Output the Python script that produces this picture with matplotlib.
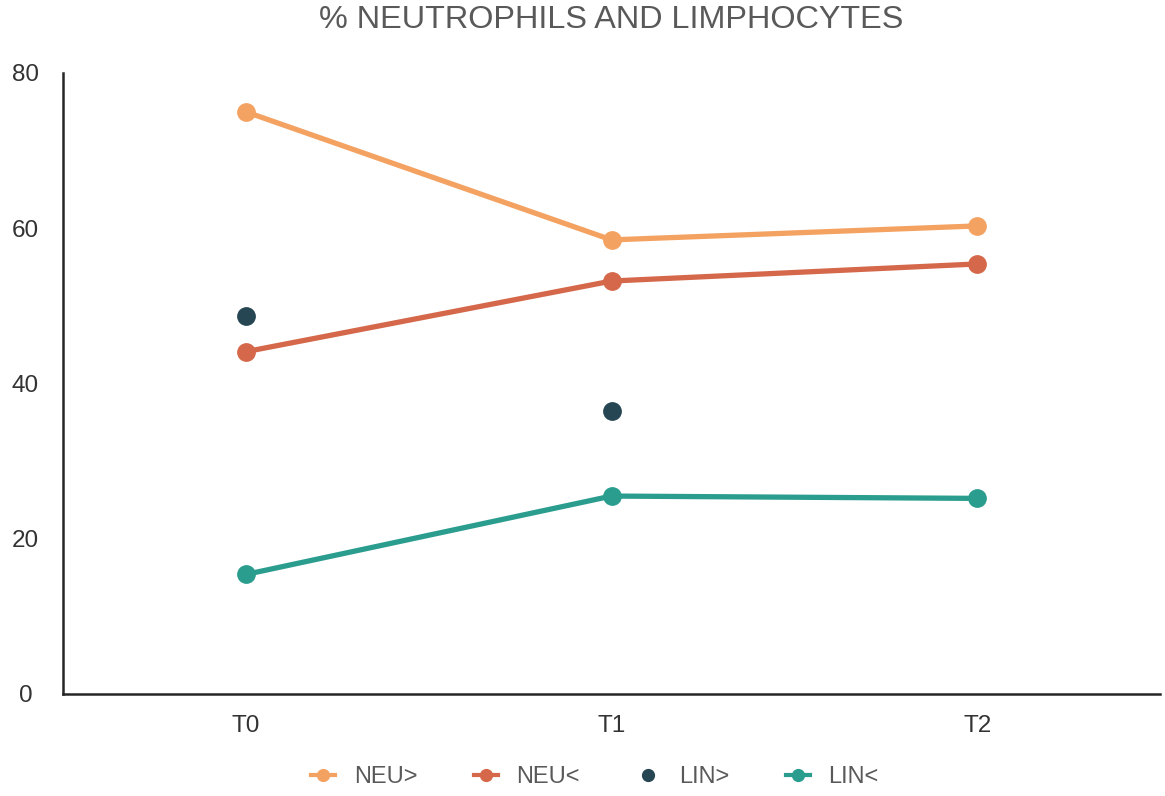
import matplotlib.pyplot as plt
from matplotlib.lines import Line2D
import numpy as np

categories = ["T0", "T1", "T2"]
neu_gt = [75.0, 58.5, 60.3]
neu_lt = [44.1, 53.2, 55.4]
lin_gt = [48.7, 36.4, np.nan]
lin_lt = [15.4, 25.5, 25.2]
y_ticks = [0, 20, 40, 60, 80]

c_neu_gt = "#F4A261"
c_neu_lt = "#D5674A"
c_lin_gt = "#264653"
c_lin_lt = "#2A9D8F"

plt.rcParams["font.family"] = ["Liberation Sans", "DejaVu Sans"]

fig = plt.figure(figsize=(11.65, 7.96), dpi=100)
ax = fig.add_axes([63 / 1165, 1 - 694 / 796, (1160 - 63) / 1165, (694 - 73) / 796])

x = np.arange(len(categories))
ax.plot(x, neu_gt, color=c_neu_gt, lw=3.8, marker="o", ms=12.5, solid_capstyle="round")
ax.plot(x, neu_lt, color=c_neu_lt, lw=3.8, marker="o", ms=12.5, solid_capstyle="round")
ax.plot(x, lin_gt, color=c_lin_gt, lw=0, marker="o", ms=12.5)
ax.plot(x, lin_lt, color=c_lin_lt, lw=3.8, marker="o", ms=12.5, solid_capstyle="round")

ax.set_xlim(-0.5, 2.5)
ax.set_ylim(0, 80)
ax.set_xticks(x)
ax.set_xticklabels(categories)
ax.set_yticks(y_ticks)
ax.tick_params(axis="both", length=0, labelsize=17.5, colors="#333333")
ax.tick_params(axis="y", pad=27)
ax.tick_params(axis="x", pad=15)
for lbl in ax.get_yticklabels():
    lbl.set_horizontalalignment("center")
for s in ["top", "right"]:
    ax.spines[s].set_visible(False)
for s in ["left", "bottom"]:
    ax.spines[s].set_color("#262626")
    ax.spines[s].set_linewidth(1.8)

fig.text(611 / 1165, 1 - 20 / 796, "% NEUTROPHILS AND LIMPHOCYTES", ha="center", va="center",
         fontsize=23.3, color="#595959")

handles = [
    Line2D([], [], color=c_neu_gt, lw=3, marker="o", ms=8.5),
    Line2D([], [], color=c_neu_lt, lw=3, marker="o", ms=8.5),
    Line2D([], [], color=c_lin_gt, lw=0, marker="o", ms=8.5),
    Line2D([], [], color=c_lin_lt, lw=3, marker="o", ms=8.5),
]
fig.legend(handles, ["NEU>", "NEU<", "LIN>", "LIN<"], loc="center", ncol=4,
           bbox_to_anchor=(595 / 1165, 1 - 777 / 796), frameon=False, fontsize=17,
           labelcolor="#595959", handlelength=1.0, columnspacing=2.4, handletextpad=0.8)

fig.savefig("out.png", dpi=100)
